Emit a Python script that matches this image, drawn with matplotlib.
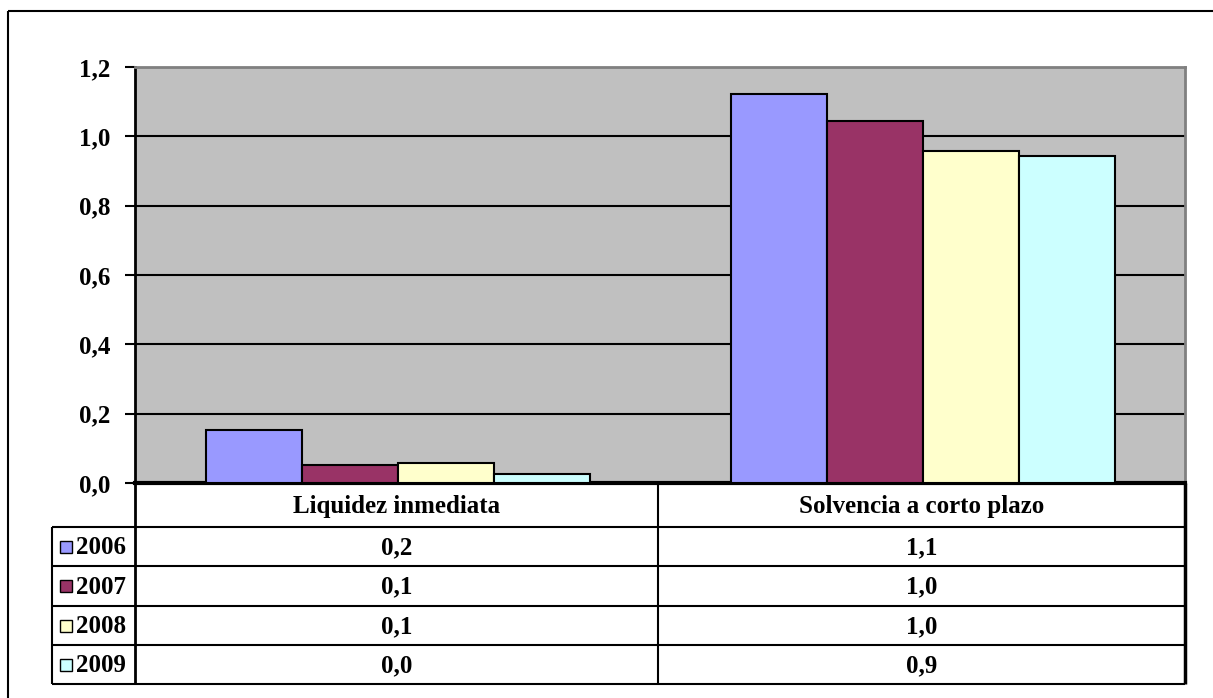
import matplotlib.pyplot as plt
from matplotlib.patches import Rectangle

# Data
categories = ['Liquidez inmediata', 'Solvencia a corto plazo']
years = ['2006', '2007', '2008', '2009']
liquidez = [0.152, 0.052, 0.058, 0.027]
solvencia = [1.122, 1.043, 0.959, 0.942]
colors = ['#9999FF', '#993366', '#FFFFCC', '#CCFFFF']

W, H = 1213, 698
plt.rcParams['font.family'] = ['Liberation Serif', 'DejaVu Serif']
plt.rcParams['font.weight'] = 'bold'
plt.rcParams['lines.solid_capstyle'] = 'butt'
FS = 18


def fmt(v):
    return f'{v:.1f}'.replace('.', ',')


fig = plt.figure(figsize=(W / 100, H / 100), dpi=100)

# layout in pixels
left, right, top, bottom = 135, 1185, 67, 483
ax = fig.add_axes([left / W, 1 - bottom / H, (right - left) / W, (bottom - top) / H])
ax.set_facecolor('#C0C0C0')

values = [liquidez, solvencia]
bw = 96 / 525
for i, yr in enumerate(years):
    ys = [v[i] for v in values]
    xs = [c + (i - 1.5) * bw for c in range(len(categories))]
    ax.bar(xs, ys, width=bw, color=colors[i], edgecolor='black', linewidth=1.5, zorder=3)

ax.set_xlim(-0.5, 1.5)
ax.set_ylim(0, 1.2)
yt = [0.0, 0.2, 0.4, 0.6, 0.8, 1.0, 1.2]
ax.set_yticks(yt)
ax.set_yticklabels([fmt(t) for t in yt], fontsize=FS, fontweight='bold')
ax.set_xticks([])
ax.yaxis.grid(True, color='black', linewidth=1.5)
ax.set_axisbelow(True)
ax.tick_params(axis='y', length=7, width=1.5, pad=11)
ax.spines['left'].set_linewidth(2)
ax.spines['bottom'].set_linewidth(3)
for s in ['top', 'right']:
    ax.spines[s].set_color('#808080')
    ax.spines[s].set_linewidth(2)

# overlay in pixel coordinates for the data table and outer frame
ov = fig.add_axes([0, 0, 1, 1], zorder=-1)
ov.set_xlim(0, W)
ov.set_ylim(H, 0)
ov.axis('off')

# outer frame
ov.plot([8, W + 5], [11, 11], color='black', lw=1.5)
ov.plot([8, 8], [11, H + 5], color='black', lw=1.5)

col_x = [52, 135, 658, 1185]
row_y = [483, 527, 566, 606, 645, 684]
lw = 1.5

# header row
ov.plot([135, 1185], [527, 527], color='black', lw=lw)
ov.plot([658, 658], [483, 684], color='black', lw=lw)
ov.plot([1185, 1185], [483, 684], color='black', lw=2.5)
ov.plot([135, 135], [483, 684], color='black', lw=2)
for j, cat in enumerate(categories):
    cx = (col_x[j + 1] + col_x[j + 2]) / 2
    ov.text(cx, (row_y[0] + row_y[1]) / 2 + 1, cat, ha='center', va='center',
            fontsize=FS, fontweight='bold')

# year rows
ov.plot([52, 135], [527, 527], color='black', lw=lw)
ov.plot([52, 52], [527, 684], color='black', lw=lw)
for i, yr in enumerate(years):
    y0, y1 = row_y[i + 1], row_y[i + 2]
    ov.plot([52, 1185], [y1, y1], color='black', lw=lw)
    cy = (y0 + y1) / 2 + 1
    ov.add_patch(Rectangle((60, cy - 7), 12, 12, facecolor=colors[i],
                           edgecolor='black', lw=1))
    ov.text(76, cy, yr, ha='left', va='center', fontsize=FS, fontweight='bold')
    for j in range(len(categories)):
        cx = (col_x[j + 1] + col_x[j + 2]) / 2
        ov.text(cx, cy, fmt(values[j][i]), ha='center', va='center',
                fontsize=FS, fontweight='bold')

fig.savefig('out.png', dpi=100, facecolor='white')
